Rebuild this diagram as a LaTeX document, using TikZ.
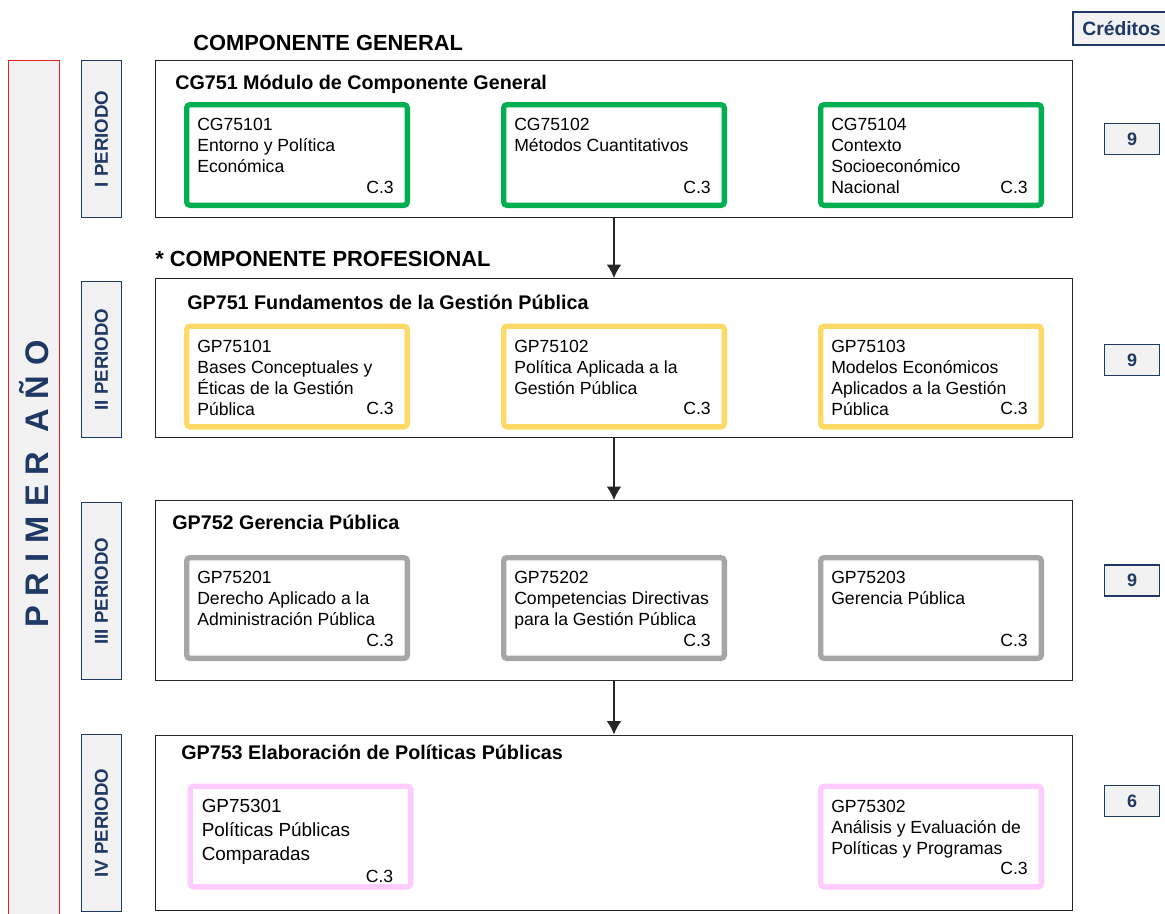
\documentclass[tikz,border=0pt]{standalone}
\usepackage{fontspec}
\setmainfont{Liberation Sans}
\newfontfamily\spacedsans[LetterSpace=30]{Liberation Sans}
\usetikzlibrary{arrows.meta}

\definecolor{navy}{HTML}{1F3864}
\definecolor{redline}{HTML}{E02424}
\definecolor{boxgray}{HTML}{F2F2F2}
\definecolor{cgreen}{HTML}{00B050}
\definecolor{cyellow}{HTML}{FFD966}
\definecolor{cgray}{HTML}{A6A6A6}
\definecolor{cpink}{HTML}{FFCCFF}

\tikzset{
    module/.style 2 args={draw=black!85, line width=1.1pt, fill=white, inner sep=0pt,
        minimum width=#1*0.75pt, minimum height=#2*0.75pt},
    period/.style={draw=navy, fill=boxgray, line width=1.1pt, rotate=90, inner sep=0pt,
        minimum width=#1*0.75pt, minimum height=30pt, text=navy,
        font=\bfseries\fontsize{14}{14}\selectfont},
    credit/.style={draw=navy, fill=boxgray, line width=1.1pt, inner sep=0pt,
        minimum width=41pt, minimum height=23.5pt, text=navy,
        font=\bfseries\fontsize{13.5}{13.5}\selectfont},
    course/.style={draw=#1, line width=4pt, rounded corners=2.5pt, fill=white,
        inner sep=0pt, minimum width=165.5pt, minimum height=75.5pt},
    coursetext/.style={inner sep=0pt, align=left, font=\fontsize{13.2}{15.75}\selectfont},
    title/.style={inner sep=0pt, anchor=base west, font=\bfseries\fontsize{14.8}{14.8}\selectfont},
    heading/.style={inner sep=0pt, anchor=base west, font=\bfseries\fontsize{16.4}{16.4}\selectfont},
    arrow/.style={-{Latex[length=10pt,width=11pt]}, line width=1.1pt, black!85}
}

% course box: name, position, colour, text
\newcommand\course[4]{
    \node[course=#3] (#1) at (#2) {};
    \node[coursetext, anchor=north west] (#1t) at ([shift={(13,16)}]#1.north west) {#4};
    \node[coursetext, anchor=base east] (#1c) at ([shift={(-16,-15)}]#1.south east) {C.3};
}

\begin{document}
\begin{tikzpicture}[x=0.75pt, y=-0.75pt]
    \useasboundingbox[fill=white] (0,0) rectangle (1165,914);

    % year bar and periods
    \node[draw=redline, fill=boxgray, line width=1.1pt, inner sep=0pt,
        minimum width=38pt, minimum height=652pt] (yearbar) at (34,495) {};
    \node[rotate=90, text=navy, inner sep=0pt,
        font=\spacedsans\bfseries\fontsize{24.5}{24.5}\selectfont] (year) at (34,484) {PRIMER AÑO};

    \node[period=157] (per1) at (101.5,139) {I PERIODO};
    \node[period=156] (per2) at (101.5,359.5) {II PERIODO};
    \node[period=177] (per3) at (101.5,591) {III PERIODO};
    \node[period=177] (per4) at (101.5,823) {IV PERIODO};

    % headings
    \node[heading] (compgen) at (193,50) {COMPONENTE GENERAL};
    \node[heading] (compprof) at (155,266) {* COMPONENTE PROFESIONAL};

    % module boxes
    \node[module={916.5}{156.5}] (cg751) at (614,139) {};
    \node[module={916.5}{158.5}] (gp751) at (614,358) {};
    \node[module={916.5}{179.5}] (gp752) at (614,590.5) {};
    \node[module={916.5}{175.5}] (gp753) at (614,823) {};

    \node[title] (cg751t) at (175,89) {CG751 Módulo de Componente General};
    \node[title] (gp751t) at (187,309) {GP751 Fundamentos de la Gestión Pública};
    \node[title] (gp752t) at (172,529) {GP752 Gerencia Pública};
    \node[title] (gp753t) at (181,759) {GP753 Elaboración de Políticas Públicas};

    \draw[arrow] (cg751) -- (gp751);
    \draw[arrow] (gp751) -- (gp752);
    \draw[arrow] (gp752) -- (gp753);

    % courses
    \course{cg75101}{297,155}{cgreen}{CG75101\\Entorno y Política\\Económica}
    \course{cg75102}{614,155}{cgreen}{CG75102\\Métodos Cuantitativos}
    \course{cg75104}{931,155}{cgreen}{CG75104\\Contexto\\Socioeconómico\\Nacional}

    \course{gp75101}{297,376.5}{cyellow}{GP75101\\Bases Conceptuales y\\Éticas de la Gestión\\Pública}
    \course{gp75102}{614,376.5}{cyellow}{GP75102\\Política Aplicada a la\\Gestión Pública}
    \course{gp75103}{931,376.5}{cyellow}{GP75103\\Modelos Económicos\\Aplicados a la Gestión\\Pública}

    \course{gp75201}{297,608}{cgray}{GP75201\\Derecho Aplicado a la\\Administración Pública}
    \course{gp75202}{614,608}{cgray}{GP75202\\Competencias Directivas\\para la Gestión Pública}
    \course{gp75203}{931,608}{cgray}{GP75203\\Gerencia Pública}

    \node[course=cpink] (gp75301) at (300.5,836.5) {};
    \node[coursetext, anchor=north west, font=\fontsize{14.2}{18}\selectfont] (gp75301t)
        at ([shift={(14,16)}]gp75301.north west) {GP75301\\Políticas Públicas\\Comparadas};
    \node[coursetext, anchor=base east] (gp75301c) at ([shift={(-20,-7)}]gp75301.south east) {C.3};
    \course{gp75302}{931,836.5}{cpink}{GP75302\\Análisis y Evaluación de\\Políticas y Programas}

    % credits
    \node[credit, minimum width=73pt, minimum height=24.5pt,
        font=\bfseries\fontsize{14.5}{14.5}\selectfont] (creditos) at (1121.5,28.5) {Créditos};
    \foreach \y/\c [count=\i] in {139/9, 360/9, 580.5/9, 801/6} {
        \node[credit] (cr\i) at (1132,\y) {\c};
    }
\end{tikzpicture}
\end{document}
